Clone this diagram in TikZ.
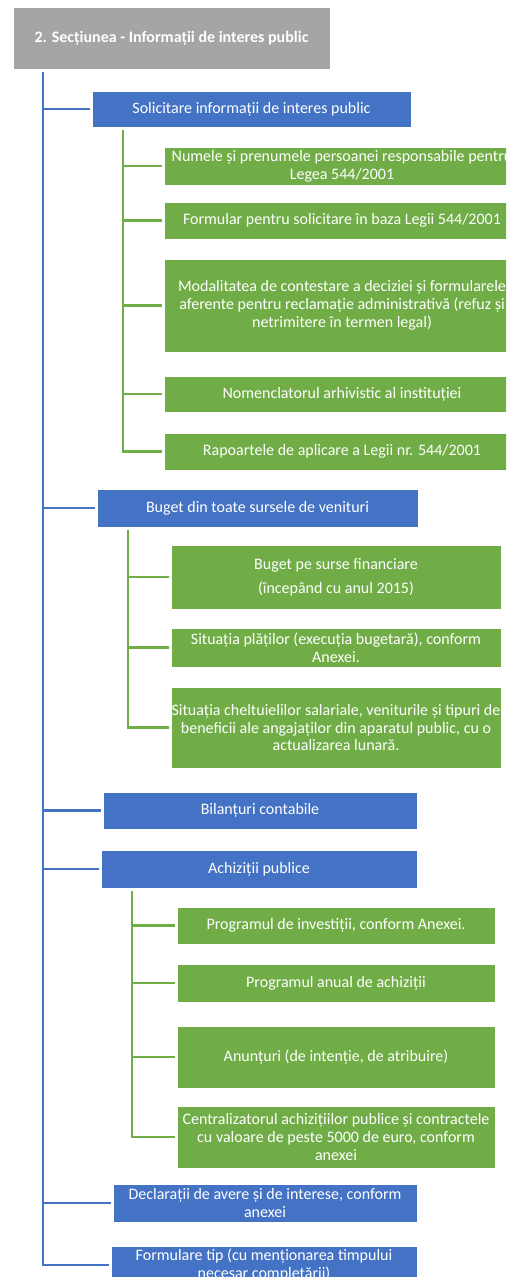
\documentclass[tikz,border=0pt]{standalone}
\usepackage{fontspec}
\setmainfont{Carlito}
\usetikzlibrary{calc,positioning}
\definecolor{sectblue}{HTML}{4472C4}
\definecolor{leafgreen}{HTML}{70AD47}
\definecolor{headgray}{HTML}{A5A5A5}

\begin{document}
\begin{tikzpicture}[
  x=1pt, y=-1pt,
  base/.style={draw=white, line width=0.6pt, text=white, align=center, inner sep=0pt, outer sep=0pt, font=\fontsize{16}{17.8}\selectfont},
  headbox/.style={base, fill=headgray, minimum width=317pt, minimum height=62pt, font=\bfseries\fontsize{16}{17.8}\selectfont},
  sectbox/.style={base, fill=sectblue, minimum height=37pt},
  leafbox/.style={base, fill=leafgreen, minimum height=37pt},
  trunk/.style={draw=sectblue, line width=2.4pt, shorten >=2.5pt},
  twig/.style={draw=leafgreen, line width=2.4pt, shorten >=2.5pt}
]
\useasboundingbox (0,0) rectangle (506,1277);
\clip (0,0) rectangle (506,1277);

\node[headbox] (hdr) at (171.5,38) {2. Secțiunea - Informații de interes public};

% sections
\node[sectbox, minimum width=319pt, minimum height=36pt] (b1) at (251.5,109) {Solicitare informații de interes public};
\node[sectbox, minimum width=321pt, minimum height=38pt] (b2) at (257.5,508) {Buget din toate sursele de venituri};
\node[sectbox, minimum width=314pt] (b3) at (260,810.5) {Bilanțuri contabile};
\node[sectbox, minimum width=316pt, minimum height=38pt] (b4) at (259,869) {Achiziții publice};
\node[sectbox, minimum width=304pt, minimum height=38pt] (b5) at (265,1203) {Declarații de avere și de interese, conform\\anexei};
\node[sectbox, minimum width=306pt, minimum height=38pt] (b6) at (264,1265) {Formulare tip (cu menționarea timpului\\necesar completării)};

% leaves under b1
\node[leafbox, minimum width=356pt, minimum height=38pt] (g1a) at (342,166) {Numele și prenumele persoanei responsabile pentru\\Legea 544/2001};
\node[leafbox, minimum width=356pt, below=17pt of g1a] (g1b) {Formular pentru solicitare în baza Legii 544/2001};
\node[leafbox, minimum width=356pt, minimum height=93pt, below=20pt of g1b] (g1c) {Modalitatea de contestare a deciziei și formularele\\aferente pentru reclamație administrativă (refuz și\\netrimitere în termen legal)};
\node[leafbox, minimum width=356pt, minimum height=36pt, below=24pt of g1c] (g1d) {Nomenclatorul arhivistic al instituției};
\node[leafbox, minimum width=356pt, below=21pt of g1d] (g1e) {Rapoartele de aplicare a Legii nr. 544/2001};

% leaves under b2
\node[leafbox, minimum width=330pt, minimum height=64pt] (g2a) at (336,577) {Buget pe surse financiare\\[6pt](începând cu anul 2015)};
\node[leafbox, minimum width=330pt, minimum height=39pt, below=19pt of g2a] (g2b) {Situația plăților (execuția bugetară), conform\\Anexei.};
\node[leafbox, minimum width=330pt, minimum height=81pt, below=20pt of g2b] (g2c) {Situația cheltuielilor salariale, veniturile și tipuri de\\beneficii ale angajaților din aparatul public, cu o\\actualizarea lunară.};

% leaves under b4
\node[leafbox, minimum width=318pt] (g3a) at (336,925.5) {Programul de investiții, conform Anexei.};
\node[leafbox, minimum width=318pt, minimum height=38pt, below=20pt of g3a] (g3b) {Programul anual de achiziții};
\node[leafbox, minimum width=318pt, minimum height=62pt, below=24pt of g3b] (g3c) {Anunțuri (de intenție, de atribuire)};
\node[leafbox, minimum width=318pt, minimum height=62pt, below=18pt of g3c] (g3d) {Centralizatorul achizițiilor publice și contractele\\cu valoare de peste 5000 de euro, conform\\anexei};

% connectors
\foreach \s in {b1,b2,b3,b4,b5,b6}
  \draw[trunk] ($(hdr.south west)+(30,3)$) |- (\s.west);
\foreach \g in {g1a,g1b,g1c,g1d,g1e}
  \draw[twig] ($(b1.south west)+(31,3)$) |- (\g.west);
\foreach \g in {g2a,g2b,g2c}
  \draw[twig] ($(b2.south west)+(31,3)$) |- (\g.west);
\foreach \g in {g3a,g3b,g3c,g3d}
  \draw[twig] ($(b4.south west)+(31,3)$) |- (\g.west);

\end{tikzpicture}
\end{document}
